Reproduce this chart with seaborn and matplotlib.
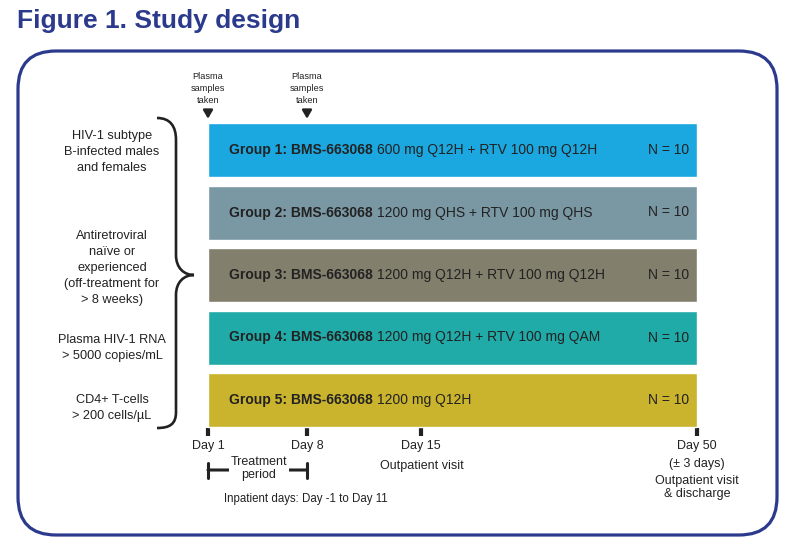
import numpy as np
import seaborn as sns
import matplotlib.pyplot as plt
from matplotlib.patches import FancyBboxPatch, PathPatch
from matplotlib.path import Path

# data
groups = ["Group 1", "Group 2", "Group 3", "Group 4", "Group 5"]
group_bold = ["Group 1: BMS-663068", "Group 2: BMS-663068", "Group 3: BMS-663068",
              "Group 4: BMS-663068", "Group 5: BMS-663068"]
regimens = ["600 mg Q12H + RTV 100 mg Q12H", "1200 mg QHS + RTV 100 mg QHS",
            "1200 mg Q12H + RTV 100 mg Q12H", "1200 mg Q12H + RTV 100 mg QAM",
            "1200 mg Q12H"]
n_per_group = [10, 10, 10, 10, 10]
start_day = 1
end_day = [50, 50, 50, 50, 50]
colors = ["#1ba7df", "#7a98a3", "#827f6d", "#20aaa8", "#cab32d"]
day_ticks = [1, 8, 15, 50]
day_labels = ["Day 1", "Day 8", "Day 15", "Day 50\n(\u00b1 3 days)"]
sample_days = [1, 8]
criteria = ["HIV-1 subtype\nB-infected males\nand females",
            "Antiretroviral\nna\u00efve or\nexperienced\n(off-treatment for\n> 8 weeks)",
            "Plasma HIV-1 RNA\n> 5000 copies/mL",
            "CD4+ T-cells\n> 200 cells/\u00b5L"]

sns.set_theme(style="white")
plt.rcParams["font.family"] = ["Liberation Sans", "DejaVu Sans"]
navy = "#2b3a8c"
ink = "#222222"

W, H = 801, 549
fig = plt.figure(figsize=(W / 100, H / 100), dpi=100)
bg = fig.add_axes([0, 0, 1, 1])
bg.set_xlim(0, W)
bg.set_ylim(H, 0)
bg.axis("off")

bg.text(17, 21, "Figure 1. Study design", fontsize=19, weight="bold",
        color=navy, ha="left", va="center")
bg.add_patch(FancyBboxPatch((18, 51), 759, 484, boxstyle="round,pad=0,rounding_size=38",
                            fill=False, ec=navy, lw=2.3))

# curly brace
verts = [(157, 118), (170, 118), (176, 126), (176, 140), (176, 255),
         (176, 268), (184, 275), (194, 275),
         (184, 275), (176, 282), (176, 295), (176, 412),
         (176, 424), (170, 428), (157, 428)]
codes = [Path.MOVETO, Path.CURVE4, Path.CURVE4, Path.CURVE4, Path.LINETO,
         Path.CURVE4, Path.CURVE4, Path.CURVE4,
         Path.CURVE4, Path.CURVE4, Path.CURVE4, Path.LINETO,
         Path.CURVE4, Path.CURVE4, Path.CURVE4]
bg.add_patch(PathPatch(Path(verts, codes), fill=False, ec=ink, lw=1.9))

for txt, y in zip(criteria, [152, 268, 348, 408]):
    bg.text(112, y, txt, fontsize=9.2, color=ink, ha="center", va="center",
            linespacing=1.45)

# bars
x0, x1 = 208, 697
top, bot = 118.75, 431.25
ax = fig.add_axes([x0 / W, 1 - bot / H, (x1 - x0) / W, (bot - top) / H])
sns.barplot(x=end_day, y=groups, hue=groups, palette=colors, orient="h",
            width=0.864, saturation=1, legend=False, ax=ax)
ax.patch.set_alpha(0)
tick_px = [0.0, 99.0, 213.0, 489.0]
ax.set_xscale("function", functions=(lambda d: np.interp(d, day_ticks, tick_px),
                                     lambda p: np.interp(p, tick_px, day_ticks)))
ax.set_xlim(start_day, 50)
ax.set_ylim(4.5, -0.5)
sns.despine(ax=ax, left=True, bottom=True)
ax.spines["bottom"].set_position(("outward", -2.3))
ax.set_yticks([])
ax.set_xlabel("")
ax.set_ylabel("")
ax.set_xticks(day_ticks, labels=day_labels)
ax.xaxis.set_minor_locator(plt.NullLocator())
ax.tick_params(axis="x", direction="out", length=6, width=3, color=ink,
               labelsize=9, labelcolor=ink, pad=2.5, bottom=True)
for lab in ax.get_xticklabels():
    lab.set_linespacing(1.65)

for i in range(len(groups)):
    t = ax.annotate(group_bold[i], xy=(start_day, i), xytext=(21, 0),
                    textcoords="offset pixels", ha="left", va="center",
                    fontsize=10, weight="bold", color=ink)
    ax.annotate(regimens[i], xy=(1, 0), xycoords=t, xytext=(4, 0),
                textcoords="offset pixels", ha="left", va="bottom",
                fontsize=10, color=ink)
    ax.annotate(f"N = {n_per_group[i]}", xy=(end_day[i], i), xytext=(-8, 0),
                textcoords="offset pixels", ha="right", va="center",
                fontsize=10, color=ink)

xt = ax.get_xaxis_transform()
for d in sample_days:
    ax.annotate("Plasma\nsamples\ntaken", xy=(d, 1.0), xycoords=xt,
                xytext=(0, 14), textcoords="offset pixels", ha="center",
                va="bottom", fontsize=6.6, color=ink, linespacing=1.4,
                arrowprops=dict(arrowstyle="-|>,head_width=0.35,head_length=0.6",
                                color=ink, lw=1.8, shrinkA=2, shrinkB=0,
                                mutation_scale=8),
                annotation_clip=False)

bracket_y = (bot - 470) / (bot - top)
ax.annotate("", xy=(day_ticks[0], bracket_y), xycoords=xt,
            xytext=(day_ticks[1], bracket_y), textcoords=xt,
            arrowprops=dict(arrowstyle="|-|,widthA=0.45,widthB=0.45",
                            color=ink, lw=2.2, shrinkA=0, shrinkB=0),
            annotation_clip=False)
ax.text(259, 468.5, "Treatment\nperiod", fontsize=9, color=ink, ha="center",
        va="center", linespacing=1.15, transform=bg.transData, clip_on=False,
        zorder=10, bbox=dict(fc="white", ec="none", pad=1))
bg.text(422, 466, "Outpatient visit", fontsize=9, color=ink, ha="center", va="center")
bg.text(697, 487.5, "Outpatient visit\n& discharge", fontsize=9, color=ink,
        ha="center", va="center", linespacing=1.15)
bg.text(306, 499, "Inpatient days: Day -1 to Day 11", fontsize=8.3, color=ink,
        ha="center", va="center")

fig.savefig("out.png", dpi=100)
